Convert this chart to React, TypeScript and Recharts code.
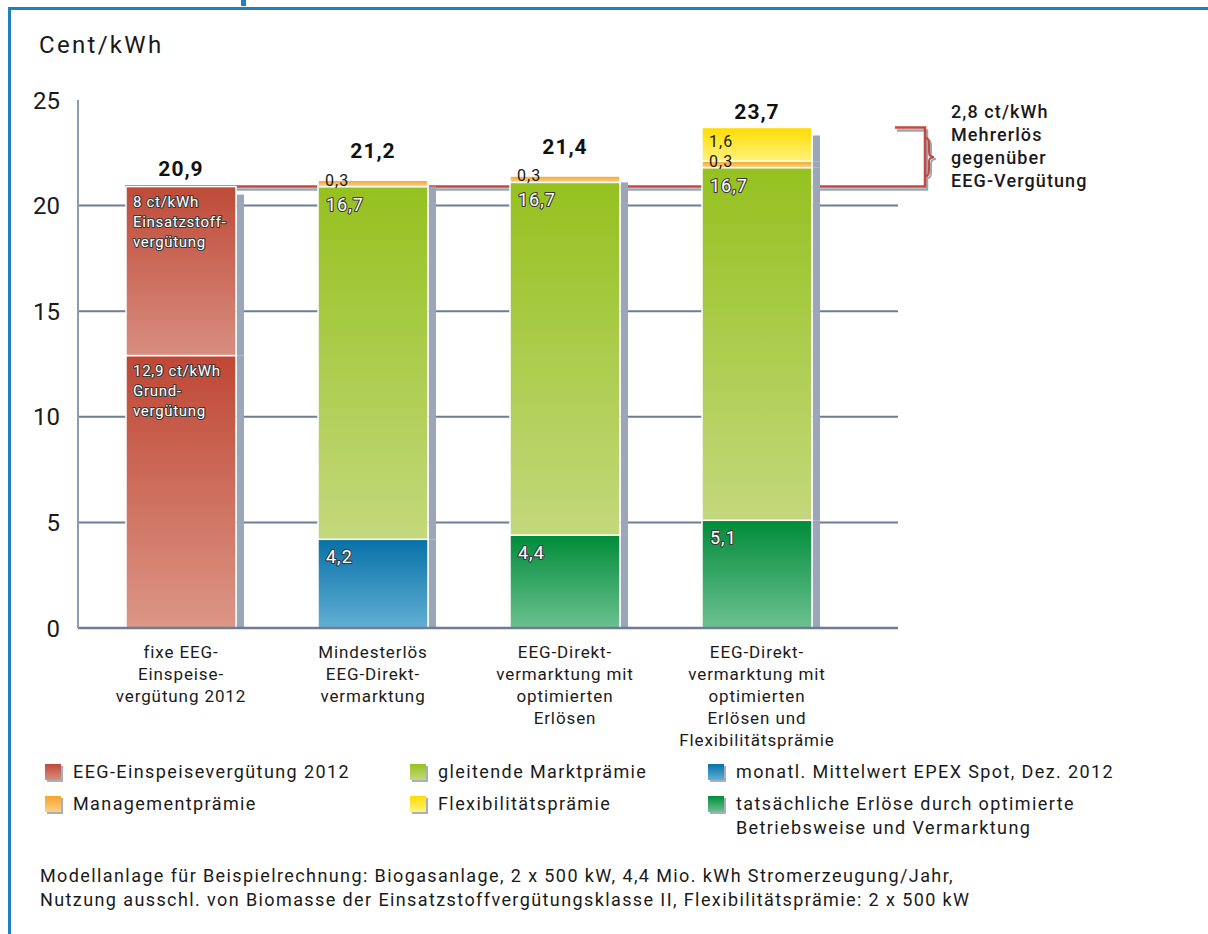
import React from "react";
import {
  ComposedChart,
  Bar,
  Line,
  XAxis,
  YAxis,
  CartesianGrid,
  ReferenceArea,
  LabelList,
} from "recharts";

const FONT = "Roboto, 'DejaVu Sans', sans-serif";

const categories = [
  "fixe EEG-\nEinspeise-\nvergütung 2012",
  "Mindesterlös\nEEG-Direkt-\nvermarktung",
  "EEG-Direkt-\nvermarktung mit\noptimierten\nErlösen",
  "EEG-Direkt-\nvermarktung mit\noptimierten\nErlösen und\nFlexibilitätsprämie",
];
const grundverguetung = [12.9, 0, 0, 0];
const einsatzstoff = [8, 0, 0, 0];
const epexSpot = [0, 4.2, 0, 0];
const istErloese = [0, 0, 4.4, 5.1];
const marktpraemie = [0, 16.7, 16.7, 16.7];
const managementpraemie = [0, 0.3, 0.3, 0.3];
const flexpraemie = [0, 0, 0, 1.6];
const totals = [20.9, 21.2, 21.4, 23.7];
const yTicks = [0, 5, 10, 15, 20, 25];
const gridValues = [5, 10, 15, 20];
const eegLevel = 20.9;
const flexLevel = 23.7;

const grundNote = ["12,9 ct/kWh", "Grund-", "vergütung"];
const einsatzNote = ["8 ct/kWh", "Einsatzstoff-", "vergütung"];
const annotation = ["2,8 ct/kWh", "Mehrerlös", "gegenüber", "EEG-Vergütung"];
const footer = [
  "Modellanlage für Beispielrechnung: Biogasanlage, 2 x 500 kW, 4,4 Mio. kWh Stromerzeugung/Jahr,",
  "Nutzung ausschl. von Biomasse der Einsatzstoffvergütungsklasse II, Flexibilitätsprämie: 2 x 500 kW",
];

const stackKeys = ["grund", "einsatz", "epex", "ist", "markt", "mgmt", "flex"];

const data = categories.map((name, i) => ({
  name,
  grund: grundverguetung[i],
  einsatz: einsatzstoff[i],
  epex: epexSpot[i],
  ist: istErloese[i],
  markt: marktpraemie[i],
  mgmt: managementpraemie[i],
  flex: flexpraemie[i],
  total: totals[i],
}));

const gradients = {
  red1: ["#bf4734", "#dc9687"],
  red2: ["#bf4a38", "#d88e80"],
  blue: ["#0771a8", "#62afd4"],
  dgreen: ["#008c39", "#6cc190"],
  lgreen: ["#95c11f", "#c3d87c"],
  orange: ["#f6a42a", "#fcd083"],
  yellow: ["#ffdc00", "#fff27e"],
};

const legendItems = [
  { label: ["EEG-Einspeisevergütung 2012"], grad: "red2", left: 45, top: 763 },
  { label: ["Managementprämie"], grad: "orange", left: 45, top: 795 },
  { label: ["gleitende Marktprämie"], grad: "lgreen", left: 410, top: 763 },
  { label: ["Flexibilitätsprämie"], grad: "yellow", left: 410, top: 795 },
  { label: ["monatl. Mittelwert EPEX Spot, Dez. 2012"], grad: "blue", left: 708, top: 763 },
  {
    label: ["tatsächliche Erlöse durch optimierte", "Betriebsweise und Vermarktung"],
    grad: "dgreen",
    left: 708,
    top: 795,
  },
];

const fmt = (v: number) => v.toFixed(1).replace(".", ",");

const segment = (key: string, fill: string) => (p: any) => {
  const { x, y, width, height, payload } = p;
  if (!height || height <= 0) return <g />;
  const idx = stackKeys.indexOf(key);
  const isTop = stackKeys.slice(idx + 1).every((k) => !payload[k]);
  const sy = isTop ? y + 8 : y;
  return (
    <g>
      <rect x={x + width + 1} y={sy} width={7} height={y + height - sy} fill="#9ba6b8" />
      <rect x={x} y={y} width={width} height={height} fill={fill} stroke="#fff" strokeWidth={1.5} />
    </g>
  );
};

const outlined = {
  fill: "#fff",
  stroke: "#3a3a3a",
  strokeWidth: 2.2,
  paintOrder: "stroke",
  strokeLinejoin: "round",
} as any;

const noteLabel = (lines: string[]) => (p: any) => {
  const { x, y, height, index } = p;
  if (!height || height <= 0 || index !== 0) return null;
  return (
    <text x={x + 7} y={y + 20} fontSize={15} letterSpacing={0.7} fontFamily={FONT} {...outlined}>
      {lines.map((l, i) => (
        <tspan key={i} x={x + 7} dy={i === 0 ? 0 : 20}>
          {l}
        </tspan>
      ))}
    </text>
  );
};

const valueLabel = (p: any) => {
  const { x, y, height, value } = p;
  if (!height || height <= 0) return null;
  return (
    <text x={x + 8} y={y + 24} fontSize={18} letterSpacing={1} fontFamily={FONT} {...outlined}>
      {fmt(Number(value))}
    </text>
  );
};

const darkLabel = (above: boolean) => (p: any) => {
  const { x, y, height, value } = p;
  if (!height || height <= 0) return null;
  return (
    <text
      x={x + 7}
      y={above ? y + height - 1 : y + 20}
      fontSize={16}
      letterSpacing={1}
      fontFamily={FONT}
      fill="#1a1a1a"
    >
      {fmt(Number(value))}
    </text>
  );
};

const totalLabel = (p: any) => {
  const { x, y, index, value } = p;
  const d = data[index];
  const gap = d.flex > 0 ? 8 : d.mgmt > 0 ? 22 : 11;
  return (
    <text
      x={x}
      y={y - gap}
      textAnchor="middle"
      fontSize={21}
      fontWeight={700}
      letterSpacing={1}
      fontFamily={FONT}
      fill="#111"
    >
      {fmt(Number(value))}
    </text>
  );
};

const CategoryTick = (p: any) => {
  const { x, y, payload } = p;
  const lines = String(payload.value).split("\n");
  return (
    <text x={x} y={y + 22} textAnchor="middle" fontSize={17} letterSpacing={0.9} fontFamily={FONT} fill="#1a1a1a">
      {lines.map((l, i) => (
        <tspan key={i} x={x} dy={i === 0 ? 0 : 22}>
          {l}
        </tspan>
      ))}
    </text>
  );
};

// bracket between the EEG level and the flex total, drawn from the area's scaled box
const bracket = (p: any) => {
  const { x, y, width, height } = p;
  const right = x + width + 72;
  const bottom = y + height;
  const path = (ox: number, oy: number) =>
    `M${x + 40 + ox},${bottom + oy} L${right + ox},${bottom + oy} L${right + ox},${y + oy} L${right - 30 + ox},${y + oy}`;
  const cy = y + height / 2;
  const bx = right + 3;
  const brace = (ox: number, oy: number) => {
    const bxx = bx + ox;
    const c = cy + oy;
    return `M${bxx - 2},${c - 19} Q${bxx + 1},${c - 19} ${bxx + 1},${c - 13} L${bxx + 1},${c - 5} Q${bxx + 1},${c} ${bxx + 6},${c} Q${bxx + 1},${c} ${bxx + 1},${c + 5} L${bxx + 1},${c + 13} Q${bxx + 1},${c + 19} ${bxx - 2},${c + 19}`;
  };
  return (
    <g fill="none">
      <path d={path(2, 3)} stroke="#9ba6b8" strokeWidth={2.5} />
      <path d={path(0, 0)} stroke="#c4483a" strokeWidth={2.5} />
      <path d={brace(2, 2)} stroke="#9ba6b8" strokeWidth={2} />
      <path d={brace(0, 0)} stroke="#c4483a" strokeWidth={2} />
    </g>
  );
};

export default function App() {
  return (
    <div
      style={{
        position: "relative",
        width: 1208,
        height: 934,
        background: "#fff",
        fontFamily: FONT,
        overflow: "hidden",
        color: "#1a1a1a",
      }}
    >
      <style>{`body{margin:0}`}</style>
      <div style={{ position: "absolute", left: 8, top: 7, width: 1200, height: 3, background: "#1f7fbf" }} />
      <div style={{ position: "absolute", left: 8, top: 7, width: 3, height: 927, background: "#1f7fbf" }} />
      <div style={{ position: "absolute", left: 241, top: 0, width: 5, height: 6, background: "#1f7fbf" }} />

      <div style={{ position: "absolute", left: 39, top: 31, fontSize: 24, letterSpacing: 2.3 }}>Cent/kWh</div>

      <div style={{ position: "absolute", left: 0, top: 0 }}>
        <ComposedChart
          width={1208}
          height={760}
          data={data}
          margin={{ top: 100, right: 310, bottom: 12, left: 0 }}
          barSize={110}
        >
          <defs>
            {Object.entries(gradients).map(([id, [a, b]]) => (
              <linearGradient key={id} id={id} x1="0" y1="0" x2="0" y2="1">
                <stop offset="0%" stopColor={a} />
                <stop offset="100%" stopColor={b} />
              </linearGradient>
            ))}
          </defs>
          <CartesianGrid vertical={false} horizontalValues={gridValues} stroke="#6f7d93" strokeWidth={2} />
          <XAxis
            dataKey="name"
            height={120}
            interval={0}
            tick={<CategoryTick />}
            tickLine={false}
            axisLine={{ stroke: "#6f7d93", strokeWidth: 2.5 }}
            padding={{ left: 7, right: 45 }}
          />
          <YAxis
            width={78}
            domain={[0, 25]}
            ticks={yTicks}
            tickLine={false}
            tickMargin={12}
            axisLine={{ stroke: "#8f9bb0", strokeWidth: 2 }}
            tick={{ fontSize: 24, fill: "#1a1a1a", fontFamily: FONT }}
          />
          <Bar dataKey="grund" stackId="s" isAnimationActive={false} shape={segment("grund", "url(#red1)")}>
            <LabelList dataKey="grund" content={noteLabel(grundNote)} />
          </Bar>
          <Bar dataKey="einsatz" stackId="s" isAnimationActive={false} shape={segment("einsatz", "url(#red2)")}>
            <LabelList dataKey="einsatz" content={noteLabel(einsatzNote)} />
          </Bar>
          <Bar dataKey="epex" stackId="s" isAnimationActive={false} shape={segment("epex", "url(#blue)")}>
            <LabelList dataKey="epex" content={valueLabel} />
          </Bar>
          <Bar dataKey="ist" stackId="s" isAnimationActive={false} shape={segment("ist", "url(#dgreen)")}>
            <LabelList dataKey="ist" content={valueLabel} />
          </Bar>
          <Bar dataKey="markt" stackId="s" isAnimationActive={false} shape={segment("markt", "url(#lgreen)")}>
            <LabelList dataKey="markt" content={valueLabel} />
          </Bar>
          <Bar dataKey="mgmt" stackId="s" isAnimationActive={false} shape={segment("mgmt", "url(#orange)")}>
            <LabelList dataKey="mgmt" content={darkLabel(true)} />
          </Bar>
          <Bar dataKey="flex" stackId="s" isAnimationActive={false} shape={segment("flex", "url(#yellow)")}>
            <LabelList dataKey="flex" content={darkLabel(false)} />
          </Bar>
          <Line dataKey="total" stroke="none" dot={false} activeDot={false} isAnimationActive={false}>
            <LabelList dataKey="total" content={totalLabel} />
          </Line>
          <ReferenceArea y1={eegLevel} y2={flexLevel} ifOverflow="visible" shape={bracket} />
        </ComposedChart>
      </div>

      <div
        style={{
          position: "absolute",
          left: 951,
          top: 100,
          fontSize: 18,
          fontWeight: 500,
          lineHeight: "23px",
          letterSpacing: 1.1,
        }}
      >
        {annotation.map((l, i) => (
          <div key={i}>{l}</div>
        ))}
      </div>

      {legendItems.map((it, i) => {
        const [a, b] = gradients[it.grad as keyof typeof gradients];
        return (
          <div key={i} style={{ position: "absolute", left: it.left, top: it.top }}>
            <div
              style={{
                position: "absolute",
                left: 0,
                top: 1,
                width: 16,
                height: 16,
                background: `linear-gradient(${a}, ${b})`,
                boxShadow: "2px 2px 0 #a5afc0",
              }}
            />
            <div
              style={{
                marginLeft: 28,
                fontSize: 18,
                lineHeight: "24px",
                whiteSpace: "nowrap",
                marginTop: -3,
                letterSpacing: 1.4,
              }}
            >
              {it.label.map((l, j) => (
                <div key={j}>{l}</div>
              ))}
            </div>
          </div>
        );
      })}

      <div
        style={{
          position: "absolute",
          left: 40,
          top: 864,
          fontSize: 18,
          lineHeight: "24px",
          whiteSpace: "nowrap",
          letterSpacing: 1.4,
        }}
      >
        {footer.map((l, i) => (
          <div key={i}>{l}</div>
        ))}
      </div>
    </div>
  );
}
